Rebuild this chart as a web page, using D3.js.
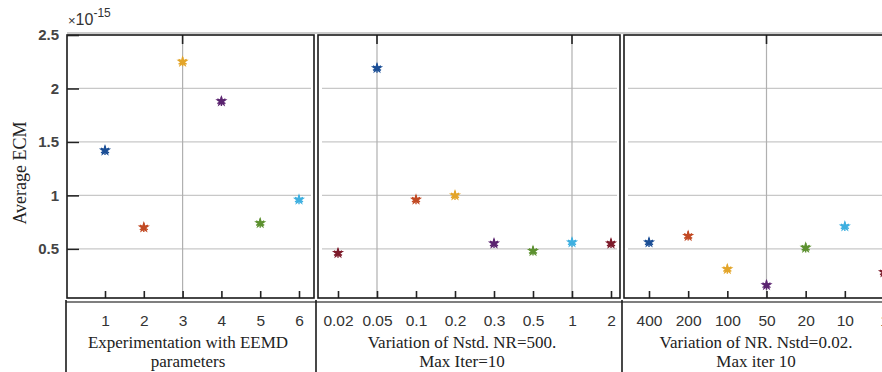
<!DOCTYPE html>
<html>
<head>
<meta charset="utf-8">
<script src="https://cdn.jsdelivr.net/npm/d3@7"></script>
<style>
  body { margin: 0; background: #fff; }
  svg { display: block; }
  .tick text { font-family: "Liberation Sans", Arial, sans-serif; font-size: 15.5px; fill: #333; }
  .ttl { font-family: "Liberation Serif", "Times New Roman", serif; font-size: 17px; fill: #222; }
</style>
</head>
<body>
<script>
const WIDTH = 882;
const HEIGHT = 372;

// data (values in units of 1e-15)
const expLabels = ["1", "2", "3", "4", "5", "6"];
const expValues = [1.42, 0.70, 2.25, 1.88, 0.74, 0.96];

const nstdLabels = ["0.02", "0.05", "0.1", "0.2", "0.3", "0.5", "1", "2"];
const nstdValues = [0.46, 2.19, 0.96, 1.00, 0.55, 0.48, 0.56, 0.55];

const nrLabels = ["400", "200", "100", "50", "20", "10", "1"];
const nrValues = [0.56, 0.62, 0.31, 0.16, 0.51, 0.71, 0.28];

const yTicks = [0.5, 1, 1.5, 2, 2.5];
const yLabel = "Average ECM";

// matlab-ish colour order, a bit darker like the scan
const COLORS = ["#1c4f96", "#c24a24", "#e3a52a", "#5b2470", "#5d9130", "#3fb0e0", "#7d1b2b"];

const TOP = 35, BOTTOM = 298;

var panels = [
	{labels: expLabels, values: expValues, x0: 67, x1: 314, first: 105, last: 299,
	 colorOffset: 0, grid: ["3"], title: ["Experimentation with EEMD", "parameters"], tx: 188},
	{labels: nstdLabels, values: nstdValues, x0: 318, x1: 620, first: 338, last: 611,
	 colorOffset: 6, grid: ["0.05", "1"], title: ["Variation of Nstd. NR=500.", "Max Iter=10"], tx: 462},
	{labels: nrLabels, values: nrValues, x0: 624, x1: 960, first: 649, last: 884,
	 colorOffset: 0, grid: ["50"], title: ["Variation of NR. Nstd=0.02.", "Max iter 10"], tx: 756}
];

var drawChart = function(){
	var svg = d3.select('body').append('svg')
		.attr('width', WIDTH)
		.attr('height', HEIGHT);

	var y = d3.scaleLinear().domain([0.04, 2.5]).range([BOTTOM, TOP]);

	panels.forEach(function(p, pi){
		var n = p.labels.length;
		var x = d3.scaleLinear().domain([1, n]).range([p.first, p.last]);
		var g = svg.append('g');

		var clipId = 'clip' + pi;
		svg.append('clipPath').attr('id', clipId)
			.append('rect').attr('x', p.x0).attr('y', TOP).attr('width', p.x1 - p.x0).attr('height', BOTTOM - TOP);

		// horizontal grid
		g.append('g').selectAll('line').data(yTicks.slice(0, 4)).enter()
			.append('line')
			.attr('x1', p.x0 + (pi == 0 ? 12 : 4)).attr('x2', p.x1 - 3)
			.attr('y1', function(d){ return y(d); }).attr('y2', function(d){ return y(d); })
			.attr('stroke', '#c8c8c8').attr('stroke-width', 1.2);

		// vertical grid only where the original has it
		g.append('g').selectAll('line').data(p.grid).enter()
			.append('line')
			.attr('x1', function(d){ return x(p.labels.indexOf(d) + 1); })
			.attr('x2', function(d){ return x(p.labels.indexOf(d) + 1); })
			.attr('y1', TOP).attr('y2', BOTTOM)
			.attr('stroke', '#b0b0b0').attr('stroke-width', 1.2);
		g.append('g').selectAll('line').data(p.grid).enter()
			.append('line')
			.attr('x1', function(d){ return x(p.labels.indexOf(d) + 1); })
			.attr('x2', function(d){ return x(p.labels.indexOf(d) + 1); })
			.attr('y1', TOP).attr('y2', TOP + 9)
			.attr('stroke', '#222').attr('stroke-width', 1.6);

		// bottom axis, ticks pointing in
		var xAxis = d3.axisBottom(x)
			.tickValues(d3.range(1, n + 1))
			.tickFormat(function(d){ return p.labels[d - 1]; })
			.tickSizeInner(-7).tickSizeOuter(0).tickPadding(17);
		var ax = g.append('g')
			.attr('transform', 'translate(0,' + BOTTOM + ')')
			.call(xAxis);
		ax.select('.domain').remove();
		ax.selectAll('.tick line').attr('stroke', '#222').attr('stroke-width', 1.6);

		// frame
		g.append('rect')
			.attr('x', p.x0).attr('y', TOP)
			.attr('width', p.x1 - p.x0).attr('height', BOTTOM - TOP)
			.attr('fill', 'none').attr('stroke', '#1a1a1a').attr('stroke-width', 1.6);

		// markers
		var pts = g.append('g').attr('clip-path', 'url(#' + clipId + ')')
			.selectAll('g').data(p.values).enter()
			.append('g')
			.attr('transform', function(d, i){ return 'translate(' + x(i + 1) + ',' + y(d) + ')'; });
		pts.append('path')
			.attr('d', d3.symbol(d3.symbolStar, 46))
			.attr('fill', function(d, i){ return COLORS[(i + p.colorOffset) % COLORS.length]; });
		pts.append('path')
			.attr('d', d3.symbol(d3.symbolAsterisk, 60))
			.attr('fill', 'none')
			.attr('stroke-width', 1.4)
			.attr('stroke', function(d, i){ return COLORS[(i + p.colorOffset) % COLORS.length]; });

		// axis title under the labels
		p.title.forEach(function(t, k){
			svg.append('text').attr('class', 'ttl')
				.attr('x', p.tx).attr('y', 348 + k * 19)
				.attr('text-anchor', 'middle')
				.text(t);
		});
	});

	// the table lines under the plots
	svg.append('line').attr('x1', 66).attr('x2', WIDTH).attr('y1', 302).attr('y2', 302)
		.attr('stroke', '#555').attr('stroke-width', 1.3);
	svg.append('line').attr('x1', 67).attr('x2', WIDTH).attr('y1', 33).attr('y2', 33)
		.attr('stroke', '#999').attr('stroke-width', 1);
	[66, 316, 622].forEach(function(xx){
		svg.append('line').attr('x1', xx).attr('x2', xx).attr('y1', 300).attr('y2', HEIGHT)
			.attr('stroke', '#1a1a1a').attr('stroke-width', 1.6);
	});

	// y axis on the first panel
	var yAxis = d3.axisLeft(y).tickValues(yTicks)
		.tickFormat(function(d){ return d; })
		.tickSizeInner(-12).tickSizeOuter(0).tickPadding(8);
	var ay = svg.append('g').attr('transform', 'translate(67,0)').call(yAxis);
	ay.select('.domain').remove();
	ay.selectAll('.tick line').attr('stroke', '#222').attr('stroke-width', 1.6);
	ay.selectAll('.tick text').attr('font-weight', 'bold').style('font-size', '15px').style('fill', '#444');

	// exponent
	var ex = svg.append('text').attr('x', 68).attr('y', 25)
		.style('font-family', '"Liberation Sans", Arial, sans-serif').style('fill', '#333');
	ex.append('tspan').style('font-size', '13px').text('\u00d7');
	ex.append('tspan').style('font-size', '16px').text('10');
	ex.append('tspan').attr('dy', -8).style('font-size', '12px').text('-15');

	svg.append('text').attr('class', 'ttl')
		.style('font-size', '18px')
		.attr('transform', 'translate(26,173) rotate(-90)')
		.attr('text-anchor', 'middle')
		.text(yLabel);
};

window.onload = function(){
	drawChart();
};
</script>
</body>
</html>
